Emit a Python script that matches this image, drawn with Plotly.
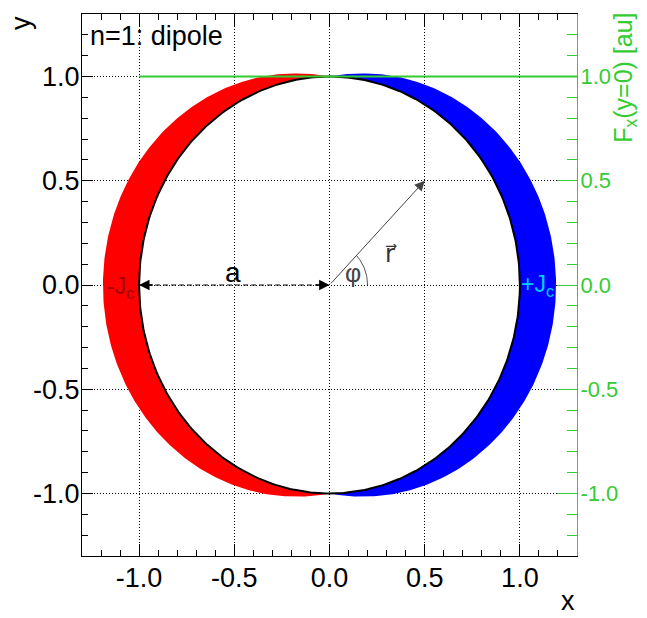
import numpy as np
import plotly.graph_objects as go

# ---- data ----
x_range = [-1.3, 1.3]
y_range = [-1.3, 1.3]
tick_vals = [-1.0, -0.5, 0.0, 0.5, 1.0]
tick_text = ["-1.0", "-0.5", "0.0", "0.5", "1.0"]

inner_radius = 1.0      # a : radius of the aperture
outer_extent = 1.19     # outer edge of the current shell on the x axis
fx_x = [-1.0, 1.3]      # F_x(y=0) curve
fx_y = [1.0, 1.0]
r_vec = [0.5, 0.5]      # tip of the position vector r
phi_arc_radius = 0.2

RED = "#ff0000"
BLUE = "#0000ff"
GREEN = "#33cc33"
FONT = "Liberation Sans"

# ---- geometry of the shifted-circle crescents ----
a = inner_radius
c = (outer_extent ** 2 - a ** 2) / (2 * outer_extent)
R = outer_extent - c
t_top = np.arctan2(a, c)
t_out = np.linspace(t_top, 2 * np.pi - t_top, 300)
t_in = np.linspace(1.5 * np.pi, 0.5 * np.pi, 300)
red_x = np.concatenate([-c + R * np.cos(t_out), a * np.cos(t_in)])
red_y = np.concatenate([R * np.sin(t_out), a * np.sin(t_in)])
blue_x = -red_x
blue_y = red_y

t_c = np.linspace(0, 2 * np.pi, 400)
circ_x = a * np.cos(t_c)
circ_y = a * np.sin(t_c)

phi = np.arctan2(r_vec[1], r_vec[0])
t_arc = np.linspace(0, phi, 40)
arc_x = phi_arc_radius * np.cos(t_arc)
arc_y = phi_arc_radius * np.sin(t_arc)

fig = go.Figure()
fig.add_trace(go.Scatter(x=red_x, y=red_y, fill="toself", fillcolor=RED,
                         mode="lines", line=dict(width=0, color=RED), hoverinfo="skip"))
fig.add_trace(go.Scatter(x=blue_x, y=blue_y, fill="toself", fillcolor=BLUE,
                         mode="lines", line=dict(width=0, color=BLUE), hoverinfo="skip"))
fig.add_trace(go.Scatter(x=circ_x, y=circ_y, mode="lines",
                         line=dict(color="black", width=2), hoverinfo="skip"))
fig.add_trace(go.Scatter(x=[-a, 0], y=[0, 0], mode="lines",
                         line=dict(color="black", width=1.2, dash="5px,3px"), hoverinfo="skip"))
fig.add_trace(go.Scatter(x=arc_x, y=arc_y, mode="lines",
                         line=dict(color="#555555", width=1), hoverinfo="skip"))
fig.add_trace(go.Scatter(x=fx_x, y=fx_y, mode="lines", yaxis="y2",
                         line=dict(color=GREEN, width=2), hoverinfo="skip"))

annotations = [
    # dashed double arrow heads
    dict(x=-a, y=0, ax=-a + 0.08, ay=0, xref="x", yref="y", axref="x", ayref="y",
         text="", showarrow=True, arrowhead=2, arrowsize=1.6, arrowwidth=1.3, arrowcolor="black"),
    dict(x=0, y=0, ax=-0.08, ay=0, xref="x", yref="y", axref="x", ayref="y",
         text="", showarrow=True, arrowhead=2, arrowsize=1.6, arrowwidth=1.3, arrowcolor="black"),
    # r vector
    dict(x=r_vec[0], y=r_vec[1], ax=0, ay=0, xref="x", yref="y", axref="x", ayref="y",
         text="", showarrow=True, arrowhead=2, arrowsize=2.0, arrowwidth=1, arrowcolor="#444444"),
    dict(x=-1.27, y=1.196, xref="x", yref="y", text="n=1: dipole", showarrow=False,
         xanchor="left", yanchor="middle", font=dict(family=FONT, size=27, color="black")),
    dict(x=-1.1, y=-0.01, xref="x", yref="y", text="-J<sub>c</sub>", showarrow=False,
         font=dict(family=FONT, size=23, color="#a00000")),
    dict(x=1.095, y=0.0, xref="x", yref="y", text="+J<sub>c</sub>", showarrow=False,
         font=dict(family=FONT, size=23, color="#00d0ff")),
    dict(x=-0.507, y=0.06, xref="x", yref="y", text="a", showarrow=False,
         font=dict(family=FONT, size=28, color="black")),
    dict(x=0.125, y=0.056, xref="x", yref="y", text="φ", showarrow=False,
         font=dict(family=FONT, size=25, color="#444444")),
    dict(x=0.325, y=0.15, xref="x", yref="y", text="r\u20d7", showarrow=False,
         font=dict(family="DejaVu Sans", size=24, color="#333333")),
    # axis titles
    dict(x=-0.123, y=1.0, xref="paper", yref="paper", text="y", textangle=-90, showarrow=False,
         xanchor="center", yanchor="top", font=dict(family=FONT, size=27, color="black")),
    dict(x=1.0, y=-0.1144, xref="paper", yref="paper", text="x", showarrow=False,
         xanchor="right", yanchor="bottom", font=dict(family=FONT, size=27, color="black")),
    dict(x=1.098, y=1.005, xref="paper", yref="paper", text="F<sub>x</sub>(y=0) [au]",
         textangle=-90, showarrow=False, xanchor="center", yanchor="top",
         font=dict(family=FONT, size=25, color=GREEN)),
]

common_grid = dict(showgrid=True, gridcolor="black", gridwidth=1, griddash="1px,2px")

fig.update_layout(
    width=647, height=618,
    margin=dict(l=82, r=70, t=14, b=62),
    paper_bgcolor="white", plot_bgcolor="white",
    showlegend=False,
    annotations=annotations,
    xaxis=dict(range=x_range, tickmode="array", tickvals=tick_vals, ticktext=tick_text,
               ticks="inside", ticklen=12, tickcolor="black", tickwidth=1,
               showline=True, linecolor="black", linewidth=1, mirror="ticks",
               zeroline=False, ticklabelstandoff=-2,
               minor=dict(ticks="inside", ticklen=6, dtick=0.1, tick0=0, tickcolor="black", showgrid=False),
               tickfont=dict(family=FONT, size=27, color="black"), **common_grid),
    yaxis=dict(range=y_range, tickmode="array", tickvals=tick_vals, ticktext=tick_text,
               ticks="inside", ticklen=11, tickcolor="black", tickwidth=1,
               showline=True, linecolor="black", linewidth=1, mirror=False,
               zeroline=False, ticklabelstandoff=-4,
               minor=dict(ticks="inside", ticklen=6, dtick=0.1, tick0=0, tickcolor="black", showgrid=False),
               tickfont=dict(family=FONT, size=27, color="black"), **common_grid),
    yaxis2=dict(range=y_range, overlaying="y", side="right", anchor="x",
                tickmode="array", tickvals=tick_vals, ticktext=tick_text,
                ticks="inside", ticklen=20, tickcolor=GREEN, tickwidth=1,
                showline=True, linecolor=GREEN, linewidth=1, showgrid=False, zeroline=False,
                ticklabelstandoff=-2,
                minor=dict(ticks="inside", ticklen=10, dtick=0.1, tick0=0, tickcolor=GREEN, showgrid=False),
                tickfont=dict(family=FONT, size=22, color=GREEN)),
)

fig.write_html("out.html")
